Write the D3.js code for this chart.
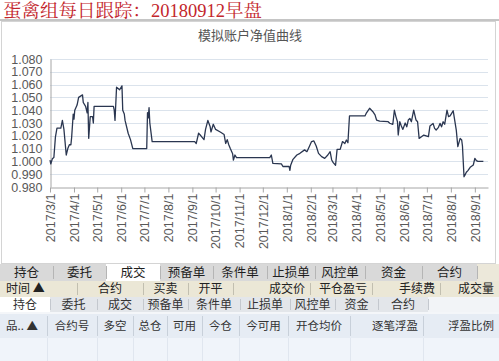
<!DOCTYPE html>
<html>
<head>
<meta charset="utf-8">
<script src="https://cdn.jsdelivr.net/npm/d3@7"></script>
<style>
  body { margin: 0; background: #fff; }
  svg { display: block; }
  text { font-family: "Liberation Sans", "Noto Sans CJK SC", sans-serif; }
</style>
</head>
<body>
<svg id="chart" width="499" height="361"></svg>
<script>
// 净值数据
const navDates = [
  "2017-03-01","2017-03-02","2017-03-04","2017-03-06","2017-03-08","2017-03-10","2017-03-15","2017-03-17",
  "2017-03-19","2017-03-22","2017-03-24","2017-03-26","2017-03-28","2017-03-29","2017-03-31","2017-04-01",
  "2017-04-02","2017-04-05","2017-04-07","2017-04-12","2017-04-13","2017-04-16","2017-04-18","2017-04-19",
  "2017-04-20","2017-04-22","2017-04-25","2017-04-26","2017-04-27","2017-05-22","2017-05-23","2017-05-24",
  "2017-05-26","2017-05-30","2017-06-02","2017-06-03","2017-06-05","2017-06-06","2017-06-10","2017-06-13",
  "2017-06-16","2017-07-04","2017-07-05","2017-07-06","2017-07-07","2017-07-08","2017-07-11","2017-09-04",
  "2017-09-06","2017-09-09","2017-09-12","2017-09-16","2017-09-18","2017-09-21","2017-09-24","2017-09-25",
  "2017-09-28","2017-10-01","2017-10-07","2017-10-12","2017-10-14","2017-10-16","2017-10-18","2017-10-20",
  "2017-10-23","2017-10-24","2017-10-26","2017-10-28","2017-12-10","2017-12-12","2017-12-14","2017-12-25",
  "2017-12-27","2018-01-04","2018-01-05","2018-01-06","2018-01-09","2018-01-14","2018-01-18","2018-01-24",
  "2018-01-27","2018-01-30","2018-02-02","2018-02-05","2018-02-08","2018-02-11","2018-02-15","2018-02-19",
  "2018-02-23","2018-02-26","2018-02-28","2018-03-02","2018-03-05","2018-03-07","2018-03-11","2018-03-14",
  "2018-03-17","2018-03-19","2018-03-21","2018-03-23","2018-04-12","2018-04-14","2018-04-18","2018-04-22",
  "2018-04-25","2018-04-27","2018-05-01","2018-05-12","2018-05-14","2018-05-18","2018-05-20","2018-05-22",
  "2018-05-24","2018-05-25","2018-05-27","2018-05-29","2018-05-31","2018-06-03","2018-06-05","2018-06-07",
  "2018-06-09","2018-06-11","2018-06-14","2018-06-17","2018-06-19","2018-06-21","2018-06-24","2018-06-27",
  "2018-07-03","2018-07-05","2018-07-09","2018-07-11","2018-07-13","2018-07-16","2018-07-18","2018-07-20",
  "2018-07-22","2018-07-24","2018-07-27","2018-07-29","2018-07-31","2018-08-02","2018-08-04","2018-08-06",
  "2018-08-08","2018-08-10","2018-08-13","2018-08-15","2018-08-16","2018-08-18","2018-08-19","2018-08-21",
  "2018-08-23","2018-08-26","2018-08-30","2018-09-01","2018-09-03","2018-09-05","2018-09-09","2018-09-12"
];
const navValues = [
  1.001,0.998,1.002,1.003,1.019,1.026,1.026,1.032,
  1.025,1.005,1.010,1.013,1.013,1.019,1.037,1.033,
  1.040,1.044,1.050,1.052,1.046,1.043,1.038,1.046,
  1.018,1.035,1.035,1.030,1.043,1.043,1.040,1.032,
  1.058,1.056,1.059,1.040,1.037,1.032,1.022,1.017,
  1.010,1.010,1.038,1.034,1.042,1.030,1.0155,1.0155,
  1.014,1.022,1.020,1.017,1.025,1.032,1.027,1.023,
  1.029,1.025,1.023,1.021,1.014,1.017,1.013,1.010,
  1.006,1.001,1.005,1.003,1.003,1.005,0.9985,0.998,
  0.996,0.996,0.993,0.997,1.0016,1.005,1.0063,1.009,
  1.0076,1.0115,1.0155,1.016,1.012,1.0063,1.0037,1.0024,
  1.005,1.0076,1.0011,0.999,0.997,1.0094,1.0094,1.0155,
  1.014,1.0167,1.0146,1.0355,1.0355,1.038,1.0415,1.039,
  1.0363,1.0323,1.0315,1.031,1.0298,1.029,1.040,1.035,
  1.031,1.0206,1.031,1.0277,1.025,1.030,1.027,1.0323,
  1.0336,1.031,1.040,1.0323,1.031,1.018,1.0193,1.0206,
  1.0193,1.0277,1.0297,1.0258,1.0245,1.0266,1.0297,1.027,
  1.031,1.029,1.040,1.035,1.0355,1.0375,1.0396,1.032,
  1.0245,1.0115,1.018,1.0167,1.012,0.988,0.989,0.9915,
  0.9928,0.9954,0.9972,1.0024,1.0006,1.000,1.000,1.000
];
const yTicks = [0.98, 0.99, 1.00, 1.01, 1.02, 1.03, 1.04, 1.05, 1.06, 1.07, 1.08];
const monthTicks = [
  "2017/3/1","2017/4/1","2017/5/1","2017/6/1","2017/7/1","2017/8/1","2017/9/1","2017/10/1","2017/11/1",
  "2017/12/1","2018/1/1","2018/2/1","2018/3/1","2018/4/1","2018/5/1","2018/6/1","2018/7/1","2018/8/1","2018/9/1"
];

// 交易软件的表格行
const tabRow1 = ["持仓","委托","成交","预备单","条件单","止损单","风控单","资金","合约"];
const tabRow1Edges = [0,53,106,160,213,267,315,365,422,477];
const tradeHead = ["时间 ▲","合约","买卖","开平","成交价","平仓盈亏","手续费","成交量"];
const tradeHeadEdges = [0,77,143,188,233,310,372,440,499];
const tradeHeadAlign = ["start","middle","middle","middle","end","end","end","end"];
const tabRow2 = ["持仓","委托","成交","预备单","条件单","止损单","风控单","资金","合约"];
const tabRow2Edges = [0,50,97,143,188,240,290,335,378,428];
const posHead = ["品.. ▲","合约号","多空","总仓","可用","今仓","今可用","开仓均价","逐笔浮盈","浮盈比例"];
const posHeadEdges = [0,47,97,133,167,202,239,288,350,423,499];
const posHeadAlign = ["start","middle","middle","middle","middle","middle","middle","middle","end","end"];

const parseDate = d3.timeParse("%Y-%m-%d");
const parseTick = d3.timeParse("%Y/%m/%d");
const data = navDates.map((d, i) => ({ date: parseDate(d), value: navValues[i] }));

const svg = d3.select("#chart");

// page title
svg.append("text")
  .attr("x", 3).attr("y", 17)
  .style("font-family", "'Liberation Serif', 'Noto Serif CJK SC', 'Noto Sans CJK SC', serif")
  .style("font-size", "18.5px")
  .attr("fill", "#c3262c")
  .text("蛋禽组每日跟踪：20180912早盘");

svg.append("line")
  .attr("x1", 0).attr("x2", 499).attr("y1", 20).attr("y2", 20)
  .attr("stroke", "#8a8a8a");

// chart box
svg.append("rect")
  .attr("x", 1.5).attr("y", 21.5).attr("width", 494).attr("height", 242)
  .attr("fill", "#fff").attr("stroke", "#d4d4d4");

svg.append("text")
  .attr("x", 250).attr("y", 40)
  .attr("text-anchor", "middle")
  .style("font-family", "'Noto Sans CJK SC', sans-serif")
  .style("font-size", "13px")
  .attr("fill", "#555")
  .text("模拟账户净值曲线");

const margin = { left: 50, top: 59, right: 488, bottom: 187 };

const x = d3.scaleTime()
  .domain([parseDate("2017-03-01"), parseDate("2018-09-18")])
  .range([margin.left, margin.right]);

const y = d3.scaleLinear()
  .domain([0.98, 1.08])
  .range([margin.bottom, margin.top]);

// gridlines
svg.append("g")
  .selectAll("line")
  .data(yTicks.slice(1))
  .enter().append("line")
  .attr("x1", margin.left).attr("x2", margin.right)
  .attr("y1", d => Math.round(y(d)) + 0.5).attr("y2", d => Math.round(y(d)) + 0.5)
  .attr("stroke", "#dbe3ec");

// y axis
const yAxis = svg.append("g")
  .attr("transform", `translate(${margin.left + 0.5},0)`)
  .call(d3.axisLeft(y).tickValues(yTicks).tickSize(0).tickPadding(8).tickFormat(d3.format(".3f")));
yAxis.select(".domain").attr("stroke", "#a6a6a6");
yAxis.selectAll("text")
  .style("font-size", "12.5px")
  .attr("fill", "#595959");

// x axis
const xAxis = svg.append("g")
  .attr("transform", `translate(0,${margin.bottom + 0.5})`)
  .call(d3.axisBottom(x)
    .tickValues(monthTicks.map(parseTick))
    .tickSize(5)
    .tickSizeOuter(0)
    .tickFormat(d3.timeFormat("%Y/%-m/%-d")));
xAxis.select(".domain").attr("stroke", "#a6a6a6");
xAxis.selectAll(".tick line").attr("stroke", "#a6a6a6");
xAxis.selectAll("text")
  .attr("transform", "rotate(-90)")
  .attr("text-anchor", "end")
  .attr("x", -6).attr("y", 0).attr("dy", "0.35em")
  .style("font-size", "12.5px")
  .attr("fill", "#595959");

// nav line
const line = d3.line()
  .x(d => x(d.date))
  .y(d => y(d.value));

svg.append("path")
  .datum(data)
  .attr("fill", "none")
  .attr("stroke", "#2a3650")
  .attr("stroke-width", 1.3)
  .attr("stroke-linejoin", "round")
  .attr("d", line);

// table rows under the chart
const drawRow = (labels, edges, top, h, opts) => {
  const g = svg.append("g");
  g.append("rect")
    .attr("x", 0).attr("y", top).attr("width", 499).attr("height", h)
    .attr("fill", opts.bg);
  if (opts.rest) {
    g.append("rect")
      .attr("x", edges[edges.length - 1]).attr("y", top)
      .attr("width", 499 - edges[edges.length - 1]).attr("height", h)
      .attr("fill", opts.rest);
  }
  if (opts.active != null) {
    g.append("rect")
      .attr("x", edges[opts.active]).attr("y", top)
      .attr("width", edges[opts.active + 1] - edges[opts.active]).attr("height", h)
      .attr("fill", "#fff");
  }
  edges.slice(1).forEach(e => {
    g.append("line")
      .attr("x1", e + 0.5).attr("x2", e + 0.5)
      .attr("y1", top + 2).attr("y2", top + h - 2)
      .attr("stroke", opts.sep);
  });
  labels.forEach((t, i) => {
    const a = opts.align ? opts.align[i] : "middle";
    const l = edges[i], r = edges[i + 1];
    const tx = a === "start" ? l + 6 : a === "end" ? r - 5 : (l + r) / 2;
    g.append("text")
      .attr("x", tx).attr("y", top + h / 2)
      .attr("dy", "0.35em")
      .attr("text-anchor", a)
      .style("font-family", "'Noto Sans CJK SC', sans-serif")
      .style("font-size", opts.fs)
      .attr("fill", opts.color)
      .text(t);
  });
  return g;
};

drawRow(tabRow1, tabRow1Edges, 264, 17, { bg: "#d9d9d9", rest: "#ece8da", active: 2, sep: "#b5b5b5", fs: "12.5px", color: "#1e1e1e" });
drawRow(tradeHead, tradeHeadEdges, 281, 16, { bg: "#ebe7d6", sep: "#c2bfb0", fs: "12px", color: "#222", align: tradeHeadAlign });
drawRow(tabRow2, tabRow2Edges, 297, 15, { bg: "#e3e6ea", rest: "#f2f4f7", active: 0, sep: "#c4c8ce", fs: "12px", color: "#333" });
svg.append("rect").attr("x", 0).attr("y", 312).attr("width", 499).attr("height", 2).attr("fill", "#f4f6f9");
drawRow(posHead, posHeadEdges, 314, 24, { bg: "#e6ecf4", sep: "#c8d0da", fs: "11.5px", color: "#333", align: posHeadAlign });

// empty position rows
svg.append("rect").attr("x", 0).attr("y", 338).attr("width", 499).attr("height", 23).attr("fill", "#f0f4fa");
svg.append("g")
  .selectAll("line")
  .data(posHeadEdges.slice(1))
  .enter().append("line")
  .attr("x1", d => d + 0.5).attr("x2", d => d + 0.5)
  .attr("y1", 338).attr("y2", 361)
  .attr("stroke", "#e0e6ef");
</script>
</body>
</html>
